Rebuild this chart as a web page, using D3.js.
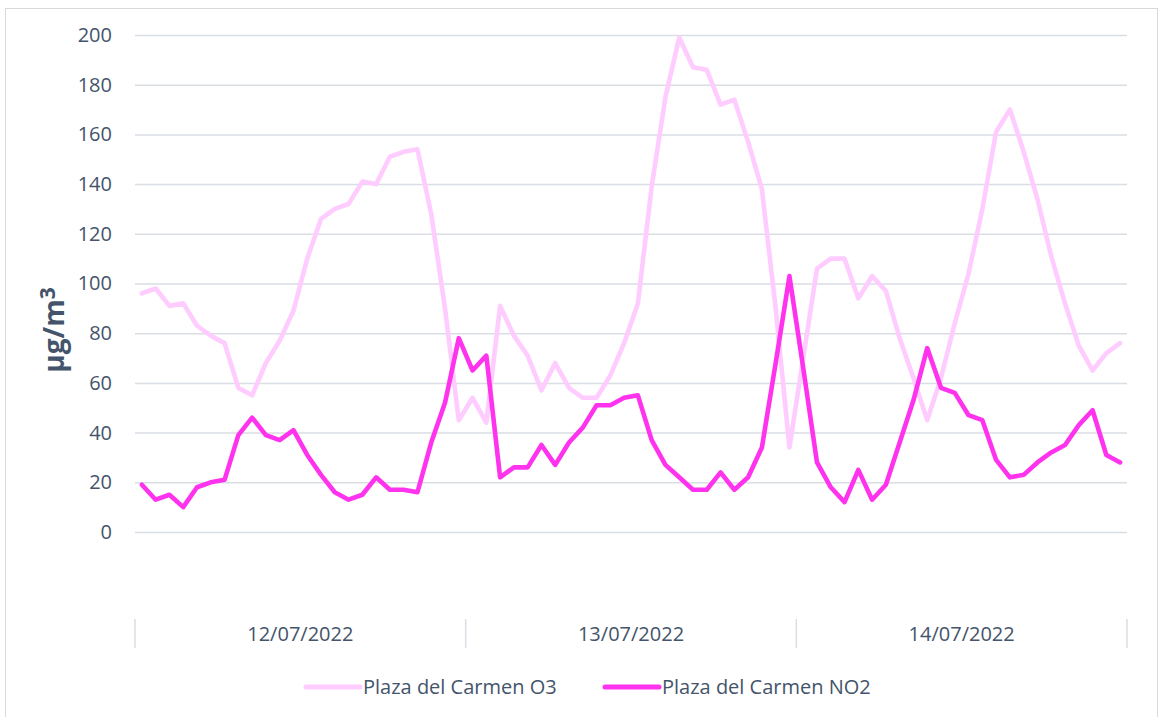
<!DOCTYPE html>
<html>
<head>
<meta charset="utf-8">
<script src="https://cdn.jsdelivr.net/npm/d3@7"></script>
<style>
  body { margin: 0; background: #fff; }
  svg text { font-family: "Open Sans", sans-serif; fill: #44546A; }
</style>
</head>
<body>
<div id="chart"></div>
<script>
var wid = 1161,
	heig = 717;

// days on the axis, 24 hourly readings per day
var days = ["12/07/2022", "13/07/2022", "14/07/2022"];
var hoursPerDay = 24;

var seriesNames = ["Plaza del Carmen O3", "Plaza del Carmen NO2"];
var seriesColors = ["#FFCCFF", "#FF33EE"];

var o3 = [96, 98, 91, 92, 83, 79, 76, 58, 55, 68, 77, 89,
          110, 126, 130, 132, 141, 140, 151, 153, 154, 128, 90, 45,
          54, 44, 91, 79, 71, 57, 68, 58, 54, 54, 63, 76,
          92, 139, 175, 199, 187, 186, 172, 174, 157, 138, 90, 34,
          70, 106, 110, 110, 94, 103, 97, 78, 62, 45, 62, 84,
          104, 130, 161, 170, 153, 134, 111, 92, 75, 65, 72, 76];

var no2 = [19, 13, 15, 10, 18, 20, 21, 39, 46, 39, 37, 41,
           31, 23, 16, 13, 15, 22, 17, 17, 16, 36, 52, 78,
           65, 71, 22, 26, 26, 35, 27, 36, 42, 51, 51, 54,
           55, 37, 27, 22, 17, 17, 24, 17, 22, 34, 68, 103,
           66, 28, 18, 12, 25, 13, 19, 36, 53, 74, 58, 56,
           47, 45, 29, 22, 23, 28, 32, 35, 43, 49, 31, 28];

var yTicks = [0, 20, 40, 60, 80, 100, 120, 140, 160, 180, 200];

var plotLeft = 135, plotRight = 1127, plotTop = 35, plotBottom = 532;

var svg = d3.select("#chart").append("svg")
	.attr("width", wid)
	.attr("height", heig);

// outer chart border
svg.append("rect")
	.attr("x", 5.5).attr("y", 8.5)
	.attr("width", 1152).attr("height", 720)
	.attr("fill", "none")
	.attr("stroke", "#D9D9D9")
	.attr("stroke-width", 1);

var hourIdx = d3.range(days.length * hoursPerDay);

var x = d3.scaleBand()
	.domain(hourIdx)
	.range([plotLeft, plotRight]);

var xDay = d3.scaleBand()
	.domain(days)
	.range([plotLeft, plotRight]);

var y = d3.scaleLinear()
	.domain([0, 200])
	.range([plotBottom, plotTop]);

// gridlines + y labels
var yAxis = svg.append("g")
	.attr("transform", "translate(" + plotLeft + ",0)")
	.call(d3.axisLeft(y).tickValues(yTicks).tickSize(-(plotRight - plotLeft)).tickPadding(23));
yAxis.select(".domain").remove();
yAxis.selectAll(".tick line")
	.attr("stroke", "#D9DEE4")
	.attr("stroke-width", 1.5);
yAxis.selectAll(".tick text")
	.style("font-size", "20px")
	.attr("fill", "#44546A");

// category axis: separators and day labels
var cat = svg.append("g");
cat.selectAll("line.sep")
	.data(days.concat(["end"]))
	.enter().append("line")
	.attr("class", "sep")
	.attr("x1", function(d, i) { return plotLeft + xDay.bandwidth() * i; })
	.attr("x2", function(d, i) { return plotLeft + xDay.bandwidth() * i; })
	.attr("y1", 619)
	.attr("y2", 648)
	.attr("stroke", "#D9DEE4")
	.attr("stroke-width", 1.5);

cat.selectAll("text.day")
	.data(days)
	.enter().append("text")
	.attr("class", "day")
	.attr("x", function(d) { return xDay(d) + xDay.bandwidth() / 2; })
	.attr("y", 641)
	.attr("text-anchor", "middle")
	.style("font-size", "20px")
	.text(function(d) { return d; });

// y axis title
var yt = svg.append("text")
	.attr("transform", "translate(64,330) rotate(-90)")
	.attr("text-anchor", "middle")
	.style("font-size", "28px")
	.style("font-weight", "bold");
yt.append("tspan").text("µg/m");
yt.append("tspan").attr("dy", "-0.45em").style("font-size", "21px").text("3");

// lines
var line = d3.line()
	.x(function(d, i) { return x(i) + x.bandwidth() / 2; })
	.y(function(d) { return y(d); });

[o3, no2].forEach(function(s, k) {
	svg.append("path")
		.datum(s)
		.attr("fill", "none")
		.attr("stroke", seriesColors[k])
		.attr("stroke-width", 4.6)
		.attr("stroke-linejoin", "round")
		.attr("stroke-linecap", "round")
		.attr("d", line);
});

// legend
var legendX = [306, 605];
var legend = svg.append("g").attr("class", "legend");
seriesNames.forEach(function(n, k) {
	legend.append("line")
		.attr("x1", legendX[k]).attr("x2", legendX[k] + 54)
		.attr("y1", 687).attr("y2", 687)
		.attr("stroke", seriesColors[k])
		.attr("stroke-width", 5)
		.attr("stroke-linecap", "round");
	legend.append("text")
		.attr("x", legendX[k] + 57)
		.attr("y", 694)
		.style("font-size", "20px")
		.text(n);
});
</script>
</body>
</html>
